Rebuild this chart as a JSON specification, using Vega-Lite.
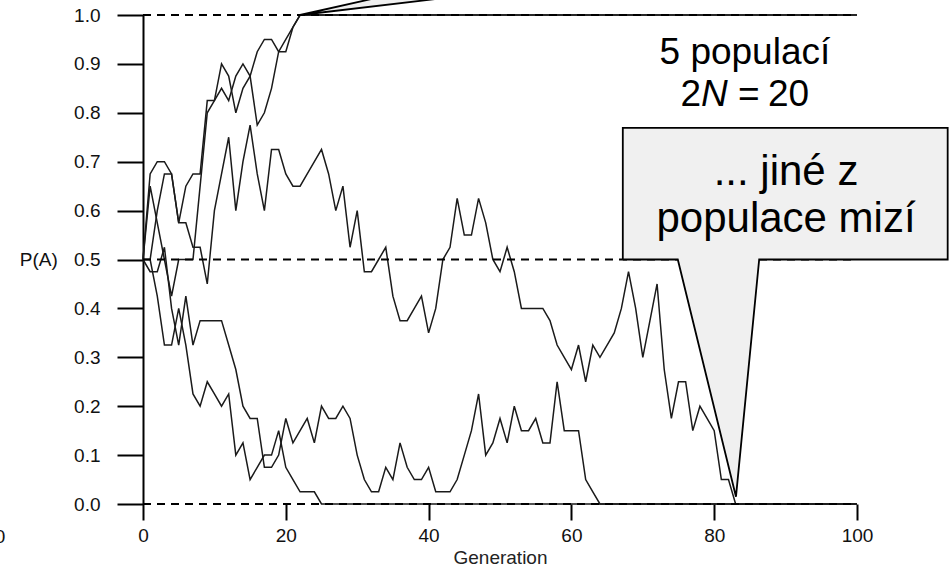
{
  "$schema": "https://vega.github.io/schema/vega-lite/v6.json",
  "width": 714,
  "height": 489,
  "autosize": {"type": "none"},
  "padding": {"left": 143, "top": 15, "right": 93, "bottom": 63},
  "config": {
    "view": {"stroke": null},
    "font": "Liberation Sans"
  },
  "datasets": {
    "pops": [
      {"pop":"A","gen":0,"p":0.5},{"pop":"A","gen":1,"p":0.5},{"pop":"A","gen":2,"p":0.6},{"pop":"A","gen":3,"p":0.675},{"pop":"A","gen":4,"p":0.675},{"pop":"A","gen":5,"p":0.575},{"pop":"A","gen":6,"p":0.65},{"pop":"A","gen":7,"p":0.675},{"pop":"A","gen":8,"p":0.675},{"pop":"A","gen":9,"p":0.825},{"pop":"A","gen":10,"p":0.825},{"pop":"A","gen":11,"p":0.9},{"pop":"A","gen":12,"p":0.875},{"pop":"A","gen":13,"p":0.8},{"pop":"A","gen":14,"p":0.85},{"pop":"A","gen":15,"p":0.875},{"pop":"A","gen":16,"p":0.925},{"pop":"A","gen":17,"p":0.95},{"pop":"A","gen":18,"p":0.95},{"pop":"A","gen":19,"p":0.925},{"pop":"A","gen":20,"p":0.925},{"pop":"A","gen":21,"p":0.975},{"pop":"A","gen":22,"p":1},{"pop":"A","gen":100,"p":1},
      {"pop":"B","gen":0,"p":0.5},{"pop":"B","gen":1,"p":0.65},{"pop":"B","gen":2,"p":0.575},{"pop":"B","gen":3,"p":0.5},{"pop":"B","gen":4,"p":0.425},{"pop":"B","gen":5,"p":0.5},{"pop":"B","gen":6,"p":0.5},{"pop":"B","gen":7,"p":0.5},{"pop":"B","gen":8,"p":0.65},{"pop":"B","gen":9,"p":0.8},{"pop":"B","gen":10,"p":0.825},{"pop":"B","gen":11,"p":0.85},{"pop":"B","gen":12,"p":0.825},{"pop":"B","gen":13,"p":0.875},{"pop":"B","gen":14,"p":0.9},{"pop":"B","gen":15,"p":0.875},{"pop":"B","gen":16,"p":0.775},{"pop":"B","gen":17,"p":0.8},{"pop":"B","gen":18,"p":0.85},{"pop":"B","gen":19,"p":0.925},{"pop":"B","gen":20,"p":0.95},{"pop":"B","gen":21,"p":0.975},{"pop":"B","gen":22,"p":1},{"pop":"B","gen":100,"p":1},
      {"pop":"C","gen":0,"p":0.5},{"pop":"C","gen":1,"p":0.675},{"pop":"C","gen":2,"p":0.7},{"pop":"C","gen":3,"p":0.7},{"pop":"C","gen":4,"p":0.675},{"pop":"C","gen":5,"p":0.575},{"pop":"C","gen":6,"p":0.575},{"pop":"C","gen":7,"p":0.525},{"pop":"C","gen":8,"p":0.525},{"pop":"C","gen":9,"p":0.45},{"pop":"C","gen":10,"p":0.6},{"pop":"C","gen":11,"p":0.675},{"pop":"C","gen":12,"p":0.75},{"pop":"C","gen":13,"p":0.6},{"pop":"C","gen":14,"p":0.7},{"pop":"C","gen":15,"p":0.775},{"pop":"C","gen":16,"p":0.675},{"pop":"C","gen":17,"p":0.6},{"pop":"C","gen":18,"p":0.725},{"pop":"C","gen":19,"p":0.725},{"pop":"C","gen":20,"p":0.675},{"pop":"C","gen":21,"p":0.65},{"pop":"C","gen":22,"p":0.65},{"pop":"C","gen":23,"p":0.675},{"pop":"C","gen":24,"p":0.7},{"pop":"C","gen":25,"p":0.725},{"pop":"C","gen":26,"p":0.675},{"pop":"C","gen":27,"p":0.6},{"pop":"C","gen":28,"p":0.65},{"pop":"C","gen":29,"p":0.525},{"pop":"C","gen":30,"p":0.6},{"pop":"C","gen":31,"p":0.475},{"pop":"C","gen":32,"p":0.475},{"pop":"C","gen":33,"p":0.5},{"pop":"C","gen":34,"p":0.525},{"pop":"C","gen":35,"p":0.425},{"pop":"C","gen":36,"p":0.375},{"pop":"C","gen":37,"p":0.375},{"pop":"C","gen":38,"p":0.4},{"pop":"C","gen":39,"p":0.425},{"pop":"C","gen":40,"p":0.35},{"pop":"C","gen":41,"p":0.4},{"pop":"C","gen":42,"p":0.5},{"pop":"C","gen":43,"p":0.525},{"pop":"C","gen":44,"p":0.625},{"pop":"C","gen":45,"p":0.55},{"pop":"C","gen":46,"p":0.55},{"pop":"C","gen":47,"p":0.625},{"pop":"C","gen":48,"p":0.575},{"pop":"C","gen":49,"p":0.5},{"pop":"C","gen":50,"p":0.475},{"pop":"C","gen":51,"p":0.525},{"pop":"C","gen":52,"p":0.475},{"pop":"C","gen":53,"p":0.4},{"pop":"C","gen":54,"p":0.4},{"pop":"C","gen":55,"p":0.4},{"pop":"C","gen":56,"p":0.4},{"pop":"C","gen":57,"p":0.375},{"pop":"C","gen":58,"p":0.325},{"pop":"C","gen":59,"p":0.3},{"pop":"C","gen":60,"p":0.275},{"pop":"C","gen":61,"p":0.325},{"pop":"C","gen":62,"p":0.25},{"pop":"C","gen":63,"p":0.325},{"pop":"C","gen":64,"p":0.3},{"pop":"C","gen":65,"p":0.325},{"pop":"C","gen":66,"p":0.35},{"pop":"C","gen":67,"p":0.4},{"pop":"C","gen":68,"p":0.475},{"pop":"C","gen":69,"p":0.4},{"pop":"C","gen":70,"p":0.3},{"pop":"C","gen":71,"p":0.375},{"pop":"C","gen":72,"p":0.45},{"pop":"C","gen":73,"p":0.275},{"pop":"C","gen":74,"p":0.175},{"pop":"C","gen":75,"p":0.25},{"pop":"C","gen":76,"p":0.25},{"pop":"C","gen":77,"p":0.15},{"pop":"C","gen":78,"p":0.2},{"pop":"C","gen":79,"p":0.175},{"pop":"C","gen":80,"p":0.15},{"pop":"C","gen":81,"p":0.05},{"pop":"C","gen":82,"p":0.05},{"pop":"C","gen":83,"p":0},{"pop":"C","gen":100,"p":0},
      {"pop":"D","gen":0,"p":0.5},{"pop":"D","gen":1,"p":0.5},{"pop":"D","gen":2,"p":0.425},{"pop":"D","gen":3,"p":0.325},{"pop":"D","gen":4,"p":0.325},{"pop":"D","gen":5,"p":0.4},{"pop":"D","gen":6,"p":0.325},{"pop":"D","gen":7,"p":0.225},{"pop":"D","gen":8,"p":0.2},{"pop":"D","gen":9,"p":0.25},{"pop":"D","gen":10,"p":0.225},{"pop":"D","gen":11,"p":0.2},{"pop":"D","gen":12,"p":0.225},{"pop":"D","gen":13,"p":0.1},{"pop":"D","gen":14,"p":0.125},{"pop":"D","gen":15,"p":0.05},{"pop":"D","gen":16,"p":0.075},{"pop":"D","gen":17,"p":0.1},{"pop":"D","gen":18,"p":0.1},{"pop":"D","gen":19,"p":0.15},{"pop":"D","gen":20,"p":0.075},{"pop":"D","gen":21,"p":0.05},{"pop":"D","gen":22,"p":0.025},{"pop":"D","gen":23,"p":0.025},{"pop":"D","gen":24,"p":0.025},{"pop":"D","gen":25,"p":0},{"pop":"D","gen":100,"p":0},
      {"pop":"E","gen":0,"p":0.5},{"pop":"E","gen":1,"p":0.475},{"pop":"E","gen":2,"p":0.475},{"pop":"E","gen":3,"p":0.525},{"pop":"E","gen":4,"p":0.4},{"pop":"E","gen":5,"p":0.325},{"pop":"E","gen":6,"p":0.425},{"pop":"E","gen":7,"p":0.325},{"pop":"E","gen":8,"p":0.375},{"pop":"E","gen":9,"p":0.375},{"pop":"E","gen":10,"p":0.375},{"pop":"E","gen":11,"p":0.375},{"pop":"E","gen":12,"p":0.325},{"pop":"E","gen":13,"p":0.275},{"pop":"E","gen":14,"p":0.2},{"pop":"E","gen":15,"p":0.175},{"pop":"E","gen":16,"p":0.175},{"pop":"E","gen":17,"p":0.075},{"pop":"E","gen":18,"p":0.075},{"pop":"E","gen":19,"p":0.1},{"pop":"E","gen":20,"p":0.175},{"pop":"E","gen":21,"p":0.125},{"pop":"E","gen":22,"p":0.15},{"pop":"E","gen":23,"p":0.175},{"pop":"E","gen":24,"p":0.125},{"pop":"E","gen":25,"p":0.2},{"pop":"E","gen":26,"p":0.175},{"pop":"E","gen":27,"p":0.175},{"pop":"E","gen":28,"p":0.2},{"pop":"E","gen":29,"p":0.175},{"pop":"E","gen":30,"p":0.1},{"pop":"E","gen":31,"p":0.05},{"pop":"E","gen":32,"p":0.025},{"pop":"E","gen":33,"p":0.025},{"pop":"E","gen":34,"p":0.075},{"pop":"E","gen":35,"p":0.05},{"pop":"E","gen":36,"p":0.125},{"pop":"E","gen":37,"p":0.075},{"pop":"E","gen":38,"p":0.05},{"pop":"E","gen":39,"p":0.05},{"pop":"E","gen":40,"p":0.075},{"pop":"E","gen":41,"p":0.025},{"pop":"E","gen":42,"p":0.025},{"pop":"E","gen":43,"p":0.025},{"pop":"E","gen":44,"p":0.05},{"pop":"E","gen":45,"p":0.1},{"pop":"E","gen":46,"p":0.15},{"pop":"E","gen":47,"p":0.225},{"pop":"E","gen":48,"p":0.1},{"pop":"E","gen":49,"p":0.125},{"pop":"E","gen":50,"p":0.175},{"pop":"E","gen":51,"p":0.125},{"pop":"E","gen":52,"p":0.2},{"pop":"E","gen":53,"p":0.15},{"pop":"E","gen":54,"p":0.15},{"pop":"E","gen":55,"p":0.175},{"pop":"E","gen":56,"p":0.125},{"pop":"E","gen":57,"p":0.125},{"pop":"E","gen":58,"p":0.25},{"pop":"E","gen":59,"p":0.15},{"pop":"E","gen":60,"p":0.15},{"pop":"E","gen":61,"p":0.15},{"pop":"E","gen":62,"p":0.05},{"pop":"E","gen":63,"p":0.025},{"pop":"E","gen":64,"p":0},{"pop":"E","gen":100,"p":0}
    ],
    "refs": [{"p": 0}, {"p": 0.5}, {"p": 1}],
    "callouts": [
      {"shape":"top","i":0,"gen":22,"p":1},
      {"shape":"top","i":1,"gen":50.1,"p":1.092},
      {"shape":"top","i":2,"gen":75.4,"p":1.092},
      {"shape":"top","i":3,"gen":22,"p":1},
      {"shape":"box","i":0,"gen":67.2,"p":0.5},
      {"shape":"box","i":1,"gen":67.2,"p":0.769},
      {"shape":"box","i":2,"gen":112.7,"p":0.769},
      {"shape":"box","i":3,"gen":112.7,"p":0.5},
      {"shape":"box","i":4,"gen":86.3,"p":0.5},
      {"shape":"box","i":5,"gen":83.05,"p":0.015},
      {"shape":"box","i":6,"gen":74.9,"p":0.5},
      {"shape":"box","i":7,"gen":67.2,"p":0.5}
    ],
    "one": [{}]
  },
  "layer": [
    {
      "data": {"name": "pops"},
      "mark": {"type": "line", "color": "#1a1a1a", "strokeWidth": 1.5},
      "encoding": {
        "x": {
          "field": "gen", "type": "quantitative",
          "scale": {"domain": [0, 100], "nice": false, "zero": false},
          "axis": {
            "title": "Generation", "titleFont": "Liberation Sans", "titleFontSize": 19, "titleFontWeight": "normal", "titleColor": "#222", "titlePadding": 3,
            "values": [0, 20, 40, 60, 80, 100], "domain": false, "grid": false,
            "tickSize": 16, "tickWidth": 2, "tickColor": "#000",
            "labelFont": "Liberation Sans", "labelFontSize": 19, "labelColor": "#111", "labelPadding": 6, "labelFlush": false, "labelOverlap": false
          }
        },
        "y": {
          "field": "p", "type": "quantitative",
          "scale": {"domain": [0, 1], "nice": false, "zero": false},
          "axis": {
            "title": null, "values": [0, 0.1, 0.2, 0.3, 0.4, 0.5, 0.6, 0.7, 0.8, 0.9, 1], "format": ".1f",
            "domain": true, "domainWidth": 2, "domainColor": "#000", "grid": false,
            "tickSize": 26, "tickWidth": 2, "tickColor": "#000",
            "labelFont": "Liberation Sans", "labelFontSize": 19, "labelColor": "#111", "labelPadding": 17, "labelFlush": false, "labelOverlap": false
          }
        },
        "detail": {"field": "pop", "type": "nominal"}
      }
    },
    {
      "data": {"name": "refs"},
      "mark": {"type": "rule", "color": "#000", "strokeWidth": 1.8, "strokeDash": [8, 6]},
      "encoding": {
        "y": {"field": "p", "type": "quantitative"},
        "x": {"datum": 0},
        "x2": {"datum": 100}
      }
    },
    {
      "data": {"name": "callouts"},
      "mark": {"type": "line", "fill": "#f0f0f0", "stroke": "#000", "strokeWidth": 1.8, "strokeJoin": "miter"},
      "encoding": {
        "x": {"field": "gen", "type": "quantitative"},
        "y": {"field": "p", "type": "quantitative"},
        "detail": {"field": "shape", "type": "nominal"},
        "order": {"field": "i", "type": "quantitative"}
      }
    },
    {
      "data": {"name": "one"},
      "mark": {"type": "text", "font": "Liberation Sans", "fontSize": 37, "align": "center", "baseline": "alphabetic", "color": "#000"},
      "encoding": {"x": {"datum": 84.3}, "y": {"datum": 0.9}, "text": {"value": "5 populací"}}
    },
    {
      "data": {"name": "one"},
      "mark": {"type": "text", "font": "Liberation Sans", "fontSize": 37, "align": "right", "baseline": "alphabetic", "color": "#000"},
      "encoding": {"x": {"datum": 78.15}, "y": {"datum": 0.813}, "text": {"value": "2"}}
    },
    {
      "data": {"name": "one"},
      "mark": {"type": "text", "font": "Liberation Sans", "fontSize": 37, "fontStyle": "italic", "align": "left", "baseline": "alphabetic", "color": "#000", "dx": 0},
      "encoding": {"x": {"datum": 78.15}, "y": {"datum": 0.813}, "text": {"value": "N"}}
    },
    {
      "data": {"name": "one"},
      "mark": {"type": "text", "font": "Liberation Sans", "fontSize": 37, "align": "left", "baseline": "alphabetic", "color": "#000", "dx": 37},
      "encoding": {"x": {"datum": 78.15}, "y": {"datum": 0.813}, "text": {"value": "="}}
    },
    {
      "data": {"name": "one"},
      "mark": {"type": "text", "font": "Liberation Sans", "fontSize": 37, "align": "left", "baseline": "alphabetic", "color": "#000", "dx": 67},
      "encoding": {"x": {"datum": 78.15}, "y": {"datum": 0.813}, "text": {"value": "20"}}
    },
    {
      "data": {"name": "one"},
      "mark": {"type": "text", "font": "Liberation Sans", "fontSize": 42, "align": "center", "baseline": "alphabetic", "color": "#000"},
      "encoding": {"x": {"datum": 90.06}, "y": {"datum": 0.652}, "text": {"value": "... jiné z"}}
    },
    {
      "data": {"name": "one"},
      "mark": {"type": "text", "font": "Liberation Sans", "fontSize": 42, "align": "center", "baseline": "alphabetic", "color": "#000"},
      "encoding": {"x": {"datum": 90.06}, "y": {"datum": 0.556}, "text": {"value": "populace mizí"}}
    },
    {
      "data": {"name": "one"},
      "mark": {"type": "text", "font": "Liberation Sans", "fontSize": 19, "align": "center", "baseline": "middle", "color": "#111"},
      "encoding": {"x": {"datum": -14.6}, "y": {"datum": 0.5}, "text": {"value": "P(A)"}}
    },
    {
      "data": {"name": "one"},
      "mark": {"type": "text", "font": "Liberation Sans", "fontSize": 19, "align": "right", "baseline": "alphabetic", "color": "#111"},
      "encoding": {"x": {"datum": -19.3}, "y": {"datum": -0.08}, "text": {"value": "100"}}
    }
  ]
}
